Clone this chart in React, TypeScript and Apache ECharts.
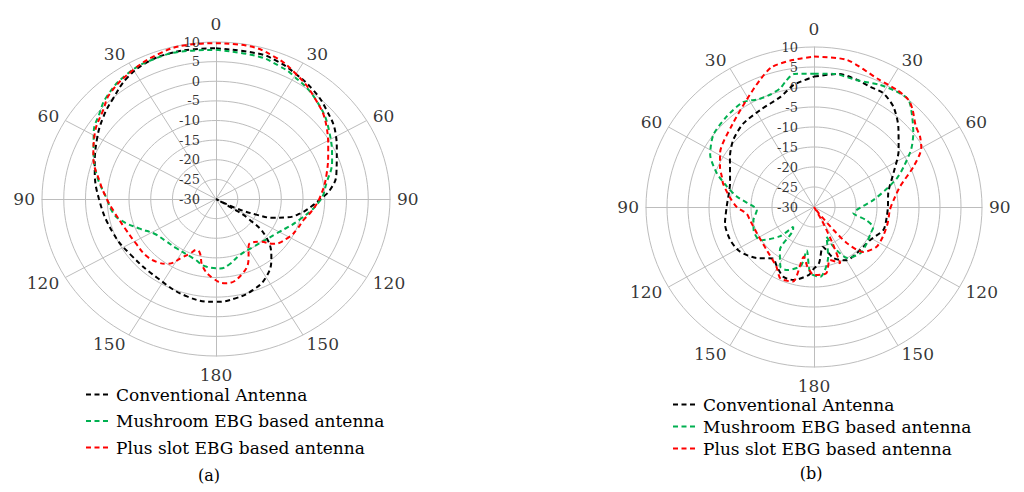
import { useEffect, useRef } from 'react';
import * as echarts from 'echarts';

// ---------- data ----------
const SERIES_NAMES = ['Conventional Antenna', 'Mushroom EBG based antenna', 'Plus slot EBG based antenna'];
const SERIES_COLORS = ['#000000', '#00b050', '#ff0000'];

const ANGLE_TICKS = [0, 30, 60, 90, 120, 150, 180, 210, 240, 270, 300, 330];
const ANGLE_LABELS = ['0', '30', '60', '90', '120', '150', '180', '150', '120', '90', '60', '30'];
const RADIUS_TICKS = [-30, -25, -20, -15, -10, -5, 0, 5, 10];
const SPOKE_ANGLES = [30, 60, 120, 150];

// (a) [angle in degrees (clockwise from top), gain in dB]
const A_CONVENTIONAL: [number, number][] = [
  [0, 8.4], [15, 8.3], [22, 7.8], [29, 6.9], [39, 5.6], [48, 4.1], [59, 2.1], [66, 0.4], [77, -1.6],
  [85, -3.7], [90, -6], [95, -8], [101, -10.4], [106, -13], [110, -16], [113, -19.5], [117, -25],
  [120, -30], [122, -26], [124, -21], [130, -15], [140, -10.2], [150, -7], [160, -5.3], [170, -4.3],
  [180, -3.8], [195, -4.3], [214, -5.8], [234, -5.8], [250, -4.8], [270, -3.1], [286, -1], [299, 1.3],
  [309, 3.3], [317, 4.8], [327, 7.1], [336, 8.3], [344, 8.6], [352, 8.5], [360, 8.4],
];
const A_MUSHROOM: [number, number][] = [
  [0, 8.0], [15, 7.6], [23, 6.9], [29, 6.2], [42, 4.2], [57, 1.1], [70, -1.6], [81, -4.3], [91, -6.1],
  [105, -10], [122, -13.5], [145, -15.1], [159, -14.7], [170, -13], [177, -12.3], [187, -12.6],
  [199, -14], [216, -14.5], [228, -14.2], [238, -13.3], [247, -10.8], [256, -7.5], [262, -6], [270, -4.9],
  [283, -1.8], [294, 0.8], [301, 2.8], [309, 4.5], [316, 6.2], [327, 7.8], [338, 8.4], [350, 8.3], [360, 8.0],
];
const A_PLUS_SLOT: [number, number][] = [
  [0, 9.7], [10, 9.7], [20, 8.7], [29, 7.0], [41, 4.4], [54, 1.4], [64, -1.3], [76, -3.8], [89, -6.1],
  [98, -7.8], [105, -9.2], [112, -9.8], [120, -10.6], [131, -12.6], [137, -15.1], [145, -16.3],
  [149, -15.5], [153, -13.5], [162, -10.1], [174, -8.4], [182, -9.8], [190, -12.5], [195, -15.7],
  [199, -16.3], [203, -15], [207, -13.5], [214, -10.1], [220, -9], [228, -8.4], [238, -8.4], [250, -7.8],
  [263, -6.2], [270, -4.9], [279, -3], [291, 0.2], [301, 2.5], [311, 4.4], [318, 6.3], [330, 8],
  [341, 9.3], [350, 9.8], [360, 9.7],
];

// (b)
const B_CONVENTIONAL: [number, number][] = [
  [0, 2.6], [10, 3.8], [18, 3.4], [24, 2.9], [30, 2.9], [37, 1.4], [45, -1.6], [55, -5.4], [66, -9.3],
  [79, -12], [90, -12.4], [98, -12.5], [109, -12.5], [122, -14.3], [139, -14.6], [150, -14.6],
  [160, -16.4], [168, -19.8], [175, -16], [181, -14.3], [184, -13], [195, -11.1], [203, -11.1],
  [212, -13], [217, -13.9], [227, -11.3], [238, -9.1], [248, -8.4], [259, -8.4], [270, -9.2],
  [287, -9.1], [302, -6.4], [311, -4.5], [321, -3.2], [332, -2.6], [344, -1.3], [351, 0.9], [360, 2.6],
];
const B_MUSHROOM: [number, number][] = [
  [0, 3.3], [8, 3.6], [18, 3.3], [27, 4.3], [34, 4.9], [40, 5.0], [46, 2.5], [52, 0], [58, -2.7],
  [65, -6.5], [70, -9], [76, -12.5], [83, -15.8], [94, -19.8], [99, -20.5], [105, -17], [110, -15],
  [116, -15], [126, -14.5], [136, -14], [148, -15], [155, -19], [158, -22], [165, -17], [175, -12.5],
  [183, -13.4], [189, -19], [192, -15], [202, -13], [208, -13], [217, -16.5], [221, -22.4], [225, -23],
  [228, -19], [237, -14.7], [248, -14.5], [257, -15.2], [267, -16.4], [270, -15.8], [278, -11.5],
  [284, -8.6], [290, -5.4], [298, -2], [307, 0], [317, 0.7], [327, 1.2], [334, 0], [340, 0],
  [345, 0.8], [348, 2.2], [352, 3.6], [360, 3.3],
];
const B_PLUS_SLOT: [number, number][] = [
  [0, 7.6], [12, 7.6], [26, 5.4], [34, 5.3], [40, 5], [44, 3.8], [50, 1.6], [55, 0.8], [60, -0.5],
  [67, -4.3], [76, -8.9], [85, -11], [92, -11.9], [103, -12], [114, -12], [124, -12.1], [134, -13.8],
  [139, -18], [141, -22.6], [144, -28], [147, -30], [151, -26], [154, -20], [156, -14.6], [164, -16.2],
  [170, -13.2], [180, -13], [186, -15], [191, -17.3], [195, -10.7], [204, -10.4], [211, -12.6],
  [226, -14.4], [244, -14.9], [258, -14.4], [264, -13.9], [270, -11.6], [277, -9.8], [285, -7.6],
  [289, -6.8], [294, -5.5], [301, -3.9], [317, -1.6], [329, 1.2], [338, 4.3], [344, 6.4], [352, 7.1],
  [360, 7.6],
];

// ---------- helpers ----------
const R_MIN = RADIUS_TICKS[0];
const R_MAX = RADIUS_TICKS[RADIUS_TICKS.length - 1];
const SPAN = R_MAX - R_MIN;
const FONT = "'DejaVu Serif', serif";
const GRID_COLOR = '#bdbdbd';

function toXY(angle: number, db: number): [number, number] {
  const r = Math.max(0, db - R_MIN);
  const t = (angle * Math.PI) / 180;
  return [r * Math.sin(t), r * Math.cos(t)];
}

const PANELS = [
  {
    grid: { left: 42, top: 42, width: 348, height: 314 },
    data: [A_CONVENTIONAL, A_MUSHROOM, A_PLUS_SLOT],
    smooth: 0.45,
    legend: { left: 85, top: 386, itemGap: 9.5 },
    caption: { text: '(a)', x: 209, y: 475 },
  },
  {
    grid: { left: 646, top: 47, width: 336, height: 320 },
    data: [B_CONVENTIONAL, B_MUSHROOM, B_PLUS_SLOT],
    smooth: 0.25,
    legend: { left: 672, top: 396, itemGap: 5 },
    caption: { text: '(b)', x: 811, y: 473 },
  },
];

function buildOption() {
  const series: any[] = [];
  PANELS.forEach((p, i) => {
    // rings
    RADIUS_TICKS.filter((v) => v > R_MIN).forEach((v) => {
      const pts: [number, number][] = [];
      for (let k = 0; k <= 120; k++) pts.push(toXY(k * 3, v));
      series.push({
        type: 'line', xAxisIndex: i, yAxisIndex: i, data: pts, symbol: 'none', silent: true,
        clip: false, z: 1, lineStyle: { color: GRID_COLOR, width: 1 },
      });
    });
    // spokes
    SPOKE_ANGLES.forEach((a) => {
      series.push({
        type: 'line', xAxisIndex: i, yAxisIndex: i, data: [toXY(a, R_MAX), toXY(a + 180, R_MAX)],
        symbol: 'none', silent: true, clip: false, z: 1, lineStyle: { color: GRID_COLOR, width: 1 },
      });
    });
    // data
    p.data.forEach((arr, s) => {
      series.push({
        name: SERIES_NAMES[s], type: 'line', xAxisIndex: i, yAxisIndex: i,
        data: arr.map(([a, d]) => toXY(a, d)), symbol: 'none', smooth: p.smooth, clip: false, z: 3,
        itemStyle: { color: SERIES_COLORS[s] },
        lineStyle: { color: SERIES_COLORS[s], width: 2, type: [5, 3.5] },
      });
    });
    // angle labels
    series.push({
      type: 'scatter', xAxisIndex: i, yAxisIndex: i, silent: true, clip: false, symbolSize: 1, z: 4,
      itemStyle: { color: 'rgba(0,0,0,0)' },
      label: { show: true, position: 'inside', formatter: '{b}', color: '#000', fontFamily: FONT, fontSize: 17 },
      data: ANGLE_TICKS.map((a, k) => {
        const t = (a * Math.PI) / 180;
        const side = a === 0 || a === 180 ? 'center' : a < 180 ? 'left' : 'right';
        const va = a === 0 ? 'bottom' : a === 180 ? 'top' : 'middle';
        return {
          name: ANGLE_LABELS[k],
          value: toXY(a, R_MAX),
          label: { align: side, verticalAlign: va, offset: [7 * Math.sin(t), -10 * Math.cos(t)] },
        };
      }),
    });
    // radius tick labels along the 0° spoke
    series.push({
      type: 'scatter', xAxisIndex: i, yAxisIndex: i, silent: true, clip: false, symbolSize: 1, z: 4,
      itemStyle: { color: 'rgba(0,0,0,0)' },
      label: {
        show: true, position: 'inside', formatter: '{b}', color: '#000', fontFamily: FONT, fontSize: 13,
        align: 'right', verticalAlign: 'middle', offset: [-16, 0],
      },
      data: RADIUS_TICKS.map((v) => ({ name: String(v), value: toXY(0, v) })),
    });
  });

  return {
    animation: false,
    backgroundColor: '#ffffff',
    grid: PANELS.map((p) => ({ ...p.grid, containLabel: false })),
    xAxis: PANELS.map((_, i) => ({
      gridIndex: i, type: 'value', min: -SPAN, max: SPAN,
      axisLine: { show: true, onZero: true, lineStyle: { color: GRID_COLOR, width: 1 } },
      axisTick: { show: false }, axisLabel: { show: false }, splitLine: { show: false },
    })),
    yAxis: PANELS.map((_, i) => ({
      gridIndex: i, type: 'value', min: -SPAN, max: SPAN, interval: 5,
      axisLine: { show: true, onZero: true, lineStyle: { color: GRID_COLOR, width: 1 } },
      axisTick: { show: false }, splitLine: { show: false }, axisLabel: { show: false },
    })),
    legend: PANELS.map((p) => ({
      data: SERIES_NAMES, orient: 'vertical', left: p.legend.left, top: p.legend.top,
      itemGap: p.legend.itemGap, itemWidth: 25, itemHeight: 14, padding: 0,
      itemStyle: { opacity: 0 },
      textStyle: { fontFamily: FONT, fontSize: 17, color: '#000' },
      selectedMode: false,
    })),
    graphic: PANELS.map((p) => ({
      type: 'text', x: p.caption.x, y: p.caption.y,
      style: { text: p.caption.text, fontFamily: FONT, fontSize: 16, fill: '#000', textAlign: 'center', textVerticalAlign: 'middle' },
    })),
    series,
  };
}

export default function App() {
  const ref = useRef<HTMLDivElement>(null);
  useEffect(() => {
    if (!ref.current) return;
    const chart = echarts.init(ref.current, undefined, { renderer: 'svg' });
    chart.setOption(buildOption() as any);
    return () => chart.dispose();
  }, []);
  return <div ref={ref} style={{ position: 'fixed', left: 0, top: 0, width: 1024, height: 492, background: '#fff' }} />;
}
